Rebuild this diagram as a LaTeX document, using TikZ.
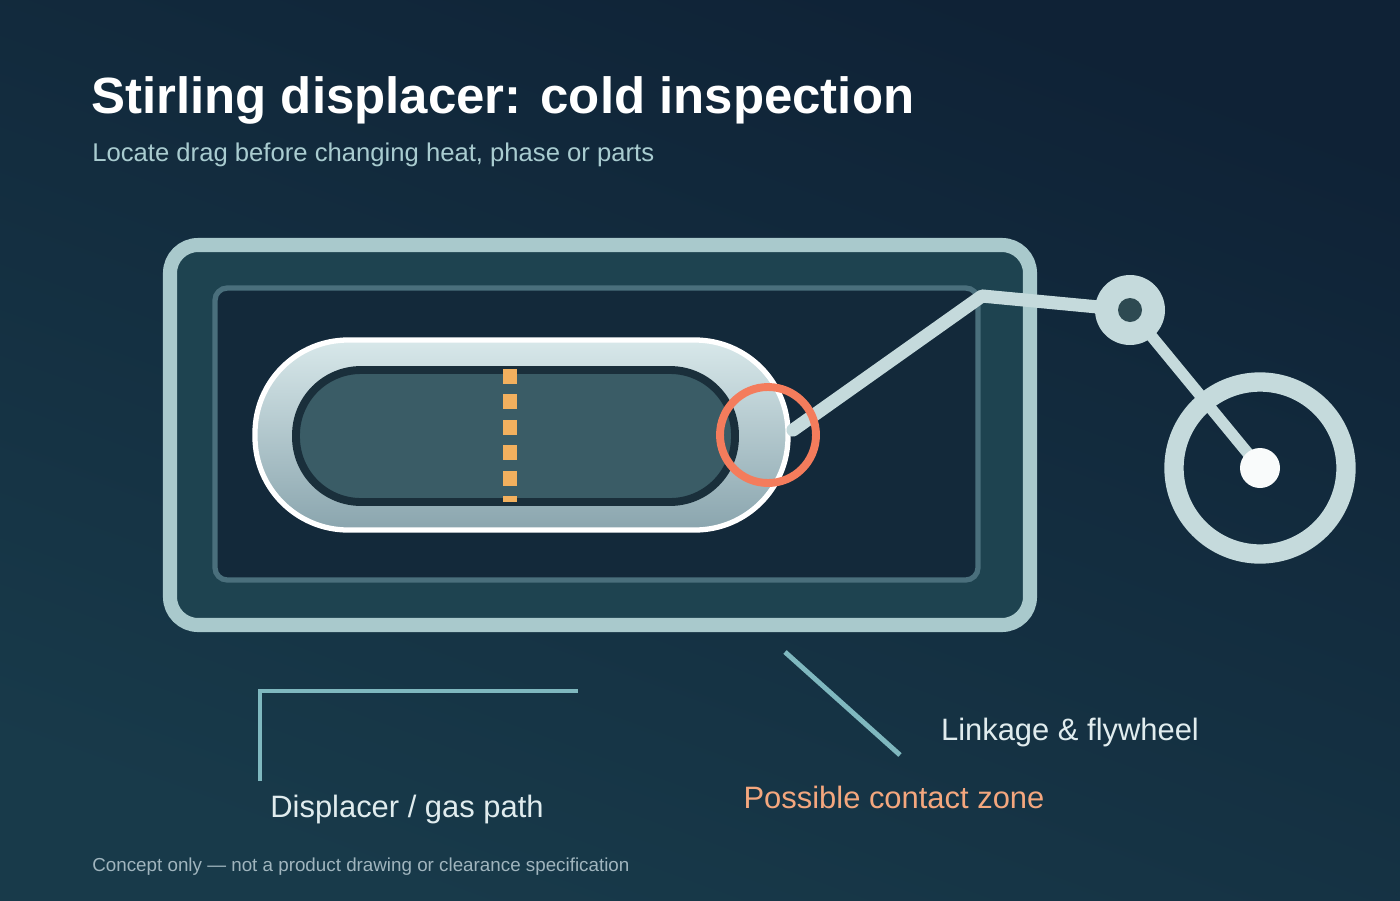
\documentclass[tikz,border=0pt]{standalone}
\usepackage{fontspec}
\setmainfont{Liberation Sans}
\usetikzlibrary{positioning}
\definecolor{bgtop}{HTML}{0F2236}
\definecolor{bgbot}{HTML}{183A4A}
\definecolor{frame}{HTML}{A9C9CC}
\definecolor{casefill}{HTML}{1E4350}
\definecolor{boreline}{HTML}{4A6F7C}
\definecolor{borefill}{HTML}{13293A}
\definecolor{pistontop}{HTML}{D8E8EA}
\definecolor{pistonbot}{HTML}{8AA5AE}
\definecolor{corefill}{HTML}{3A5C66}
\definecolor{coreline}{HTML}{1A2F3B}
\definecolor{gap}{HTML}{F2B05E}
\definecolor{hot}{HTML}{F47C5C}
\definecolor{link}{HTML}{C5DADC}
\definecolor{callout}{HTML}{7FB8BF}
\definecolor{subtxt}{HTML}{A9CCD0}
\definecolor{lbltxt}{HTML}{E0ECEE}
\definecolor{warmtxt}{HTML}{F4A77E}
\definecolor{foottxt}{HTML}{A0B5BE}
\tikzset{
  callout line/.style={draw=callout,line width=2.8pt},
  label text/.style={font=\fontsize{17.6}{20}\selectfont,text=lbltxt},
  rod/.style={draw=link,line width=7.5pt,line cap=round,line join=round}
}
\begin{document}
\begin{tikzpicture}[x=0.02cm,y=-0.02cm]
  % background
  \shade[top color=bgtop,bottom color=bgbot,shading angle=-20] (0,0) rectangle (1400,900);
  \useasboundingbox (0,0) rectangle (1400,900);
  % titles
  \node[anchor=base west,inner sep=0pt,font=\bfseries\fontsize{29}{34}\selectfont,text=white] (title) at (91,113) {Stirling displacer: cold inspection};
  \node[anchor=base west,inner sep=0pt,font=\fontsize{14.6}{17}\selectfont,text=subtxt] (subtitle) at (92,161) {Locate drag before changing heat, phase or parts};
  % casing and bore
  \draw[draw=frame,fill=casefill,line width=8pt,rounded corners=16pt] (170,245) rectangle (1030,625);
  \draw[draw=boreline,fill=borefill,line width=3pt,rounded corners=7pt] (215,288) rectangle (978,580);
  % displacer
  \draw[draw=white,line width=3pt,top color=pistontop,bottom color=pistonbot,rounded corners=53pt] (255,340) rectangle (788,530);
  \draw[draw=coreline,fill=corefill,line width=4.5pt,rounded corners=37pt] (296,370) rectangle (735,502);
  \draw[draw=gap,line width=8.5pt,dash pattern=on 8.5pt off 6pt] (510,369) -- (510,502);
  % linkage
  \coordinate (pin) at (793,430);
  \coordinate (elbow) at (982,296);
  \coordinate (crank) at (1130,310);
  \coordinate (wheel) at (1260,468);
  \draw[draw=link,line width=11pt] (wheel) circle (86);
  \draw[rod] (pin) -- (elbow) -- (crank);
  \fill[link] (crank) circle (35);
  \draw[draw=link,line width=6.5pt,line cap=round] (crank) -- (wheel);
  \fill[fill=corefill!80!black] (crank) circle (12);
  \fill[white!90!link] (wheel) circle (20);
  % contact zone
  \draw[draw=hot,line width=4.5pt] (768,435) circle (48);
  % callouts
  \coordinate (c1a) at (260,781);
  \coordinate (c1b) at (260,691);
  \coordinate (c1c) at (578,691);
  \draw[callout line] (c1a) -- (c1b) -- (c1c);
  \coordinate (c2a) at (785,652);
  \coordinate (c2b) at (900,755);
  \draw[callout line] (c2a) -- (c2b);
  \node[label text] (gaspath) at (407,809) {Displacer / gas path};
  \node[label text] (linkage) at (1070,732) {Linkage \& flywheel};
  \node[label text,text=warmtxt] (contact) at (894,797) {Possible contact zone};
  \node[anchor=base west,inner sep=0pt,font=\fontsize{10.7}{12}\selectfont,text=foottxt] (footer) at (92,871) {Concept only — not a product drawing or clearance specification};
\end{tikzpicture}
\end{document}
